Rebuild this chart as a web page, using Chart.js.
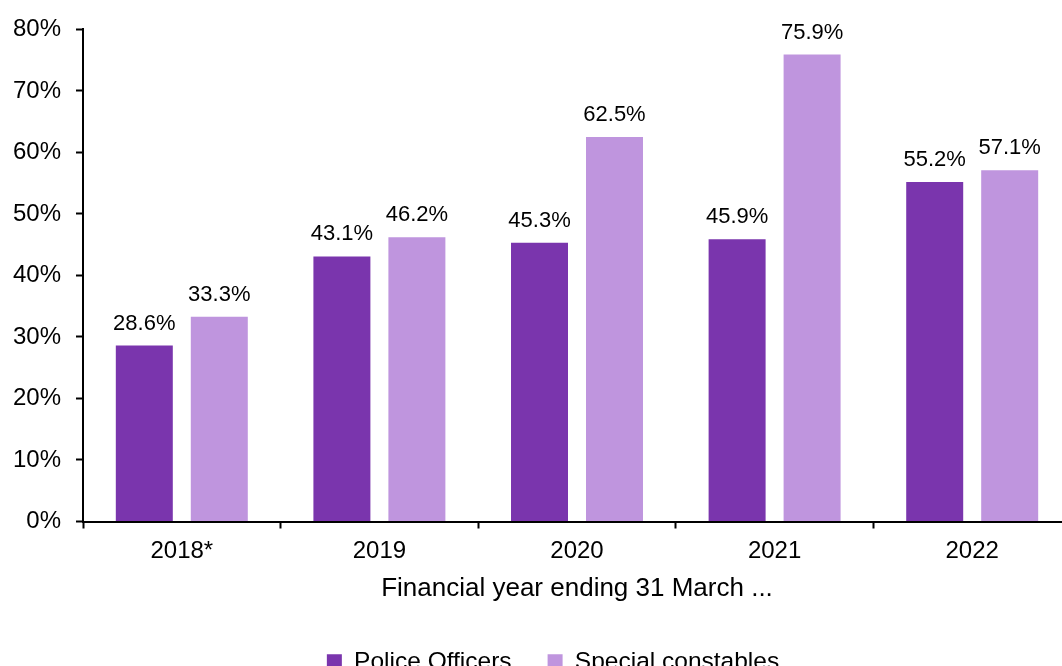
<!DOCTYPE html>
<html>
<head>
<meta charset="utf-8">
<script src="https://cdn.jsdelivr.net/npm/chart.js@4/dist/chart.umd.min.js"></script>
<style>
  html, body { margin: 0; padding: 0; background: #fff; overflow: hidden; }
  #wrap { position: relative; width: 1080px; height: 684px; }
</style>
</head>
<body>
<div id="wrap"><canvas id="myChartRate"></canvas></div>
<script>
const years = ['2018*', '2019', '2020', '2021', '2022'];
const policeOfficers = [28.6, 43.1, 45.3, 45.9, 55.2];
const specialConstables = [33.3, 46.2, 62.5, 75.9, 57.1];
const yTicks = [0, 10, 20, 30, 40, 50, 60, 70, 80];

const FONT = "'Liberation Sans', Arial, sans-serif";

// writes the percentage above every bar
const valueLabels = {
    id: 'valueLabels',
    afterDatasetsDraw(chart) {
        const ctx = chart.ctx;
        ctx.save();
        ctx.font = '22px ' + FONT;
        ctx.fillStyle = '#000';
        ctx.textAlign = 'center';
        ctx.textBaseline = 'alphabetic';
        chart.data.datasets.forEach((ds, i) => {
            chart.getDatasetMeta(i).data.forEach((bar, j) => {
                ctx.fillText(ds.data[j].toFixed(1) + '%', bar.x, bar.y - 16);
            });
        });
        ctx.restore();
    }
};

// nudge the legend a little to the right of the canvas centre
const legendShift = {
    id: 'legendShift',
    afterLayout(chart) {
        const lg = chart.legend;
        if (lg) { lg.left += 11; lg.right += 11; }
    }
};

const ctx = document.getElementById('myChartRate');
const myChartRate = new Chart(ctx, {
    type: 'bar',
    data: {
        labels: years,
        datasets: [{
            label: 'Police Officers',
            data: policeOfficers,
            backgroundColor: '#7A35AD',
            categoryPercentage: 0.759,
            barPercentage: 0.76
        }, {
            label: 'Special constables',
            data: specialConstables,
            backgroundColor: '#BF95DE',
            categoryPercentage: 0.759,
            barPercentage: 0.76
        }]
    },
    options: {
        responsive: true,
        maintainAspectRatio: false,
        animation: false,
        layout: {
            padding: { left: 13, right: 9, top: 21, bottom: 0 }
        },
        plugins: {
            legend: {
                position: 'bottom',
                labels: {
                    color: '#000',
                    font: { family: FONT, size: 24.5 },
                    boxWidth: 15,
                    boxHeight: 15,
                    padding: 36
                }
            },
            tooltip: { enabled: false }
        },
        scales: {
            x: {
                grid: {
                    display: true,
                    drawOnChartArea: false,
                    drawTicks: true,
                    tickLength: 7,
                    tickWidth: 2,
                    color: '#000'
                },
                border: { display: true, color: '#000', width: 2 },
                ticks: {
                    color: '#000',
                    font: { family: FONT, size: 24 },
                    padding: 8
                },
                title: {
                    display: true,
                    text: 'Financial year ending 31 March ...',
                    color: '#000',
                    font: { family: FONT, size: 26 },
                    padding: { top: 0, bottom: 9 }
                }
            },
            y: {
                min: 0,
                max: 80,
                afterFit(scale) { scale.width = 70; },
                afterBuildTicks(scale) { scale.ticks = yTicks.map(v => ({ value: v })); },
                grid: {
                    display: true,
                    drawOnChartArea: false,
                    drawTicks: true,
                    tickLength: 7,
                    tickWidth: 2,
                    color: '#000'
                },
                border: { display: true, color: '#000', width: 2 },
                ticks: {
                    color: '#000',
                    font: { family: FONT, size: 24 },
                    padding: 15,
                    callback: v => v + '%'
                }
            }
        }
    },
    plugins: [valueLabels, legendShift]
});
</script>
</body>
</html>
